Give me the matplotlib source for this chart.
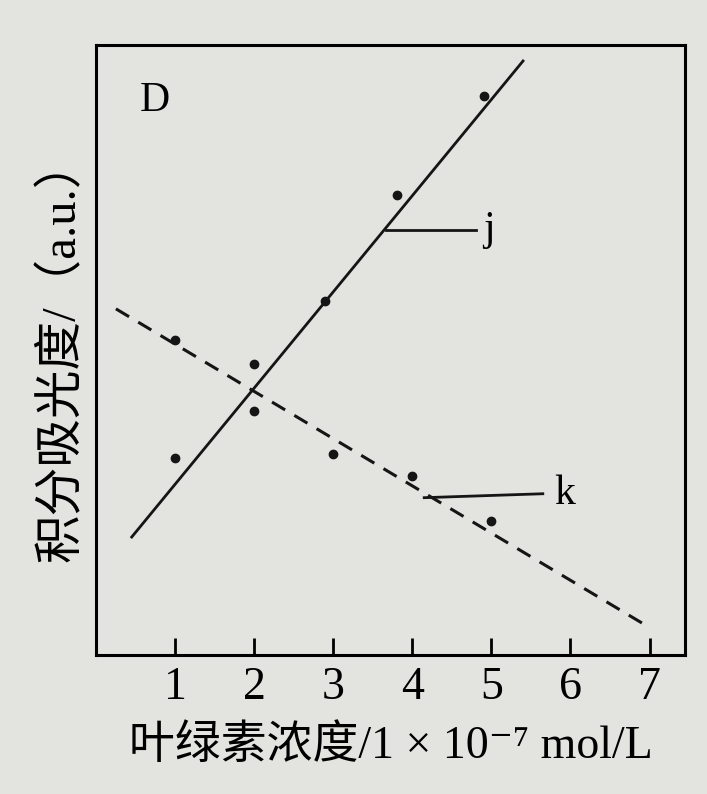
import matplotlib
matplotlib.use("Agg")
import matplotlib.pyplot as plt

# data (x in 1e-7 mol/L, y in a.u.)
j_x = [1, 2, 2.9, 3.8, 4.9]
j_y = [2.5, 3.7, 4.5, 5.85, 7.1]
k_x = [1, 2, 3, 4, 5]
k_y = [4.0, 3.1, 2.55, 2.28, 1.7]

# fitted lines (end points)
j_fit_x = [0.45, 5.4]
j_fit_y = [1.5, 7.55]
k_fit_x = [0.25, 7.0]
k_fit_y = [4.4, 0.35]

x_ticks = [1, 2, 3, 4, 5, 6, 7]

serif = ['Liberation Serif', 'Noto Sans CJK SC', 'DejaVu Serif']
bg = '#e3e3e0'

fig = plt.figure(figsize=(7.07, 7.94), dpi=100, facecolor=bg)
ax = fig.add_axes([0.136, 0.175, 0.833, 0.768], facecolor=bg)

ax.plot(j_fit_x, j_fit_y, color='#151515', lw=2)
ax.plot(k_fit_x, k_fit_y, color='#151515', lw=2.2, dashes=(5, 3.5))
ax.plot(j_x, j_y, 'o', color='#151515', ms=6)
ax.plot(k_x, k_y, 'o', color='#151515', ms=6)

# callout labels
ax.plot([3.67, 4.8], [5.4, 5.4], color='#151515', lw=2)
ax.text(4.9, 5.4, 'j', fontsize=30, family=serif, va='center', ha='left')
ax.plot([4.15, 5.65], [2.0, 2.05], color='#151515', lw=2)
ax.text(5.8, 2.05, 'k', fontsize=30, family=serif, va='center', ha='left')
ax.text(0.55, 7.05, 'D', fontsize=30, family=serif, va='center', ha='left')

ax.set_xlim(0, 7.45)
ax.set_ylim(0, 7.75)
ax.set_xticks(x_ticks)
ax.set_xticklabels([str(t) for t in x_ticks], family=serif, fontsize=33)
ax.set_yticks([])
ax.tick_params(axis='x', direction='in', length=12, width=2, pad=8)
for s in ax.spines.values():
    s.set_linewidth(2.2)

ax.set_xlabel('叶绿素浓度/1 × 10⁻⁷ mol/L', family=serif, fontsize=33, labelpad=12)
ax.set_ylabel('积分吸光度/（a.u.）', family=serif, fontsize=35, labelpad=8)

fig.savefig('out.png', dpi=100, facecolor=bg)
